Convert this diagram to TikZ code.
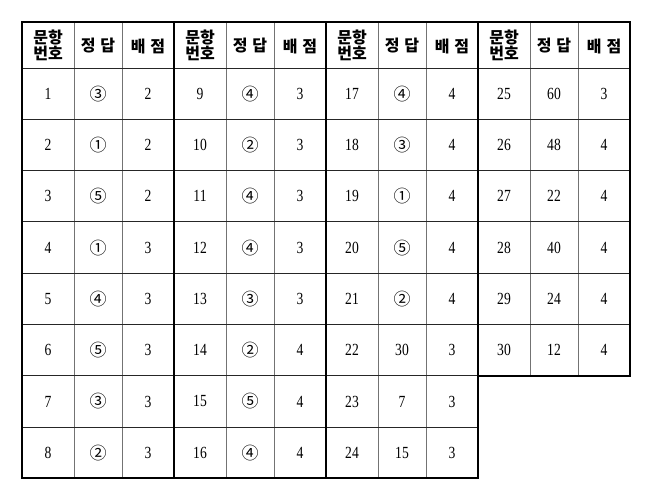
\documentclass[tikz,border=0pt]{standalone}
\usepackage{fontspec}
\setmainfont{Liberation Serif}[FakeStretch=0.8]
\newfontfamily\hdfont{Noto Sans CJK KR}
\newfontfamily\circfont{Noto Sans CJK KR}
\newcommand\ci[1]{{\circfont\fontsize{17}{19}\selectfont #1}}

\tikzset{
	hdtext/.style={align=center,inner sep=0pt,font=\hdfont\bfseries\fontsize{16}{16}\selectfont},
	celltext/.style={inner sep=0pt,font=\fontsize{17}{20}\selectfont},
	innerline/.style={line width=.9pt,draw=black!55},
	rowline/.style={line width=.9pt,draw=black!85},
	groupline/.style={line width=1.4pt},
	outerline/.style={line width=2pt,line join=miter}
}

\begin{document}
\begin{tikzpicture}[x=1pt,y=-1pt]
			\useasboundingbox (0,0) rectangle (650,499);
			
			% inner column lines
			\foreach \g in {0,1,2} { \draw[innerline] ({22+152*\g+52},22) -- ({22+152*\g+52},478);
				\draw[innerline] ({22+152*\g+100},22) -- ({22+152*\g+100},478); }
			\draw[innerline] (530,22) -- (530,375.5); \draw[innerline] (578,22) -- (578,375.5);
			
			% row lines
			\draw[rowline] (22,68) -- (630,68);
			\foreach \k in {1,...,5} \draw[rowline] (22,{68+51.3*\k}) -- (630,{68+51.3*\k});
			\draw[rowline] (22,{68+51.3*6}) -- (478,{68+51.3*6});
			\draw[rowline] (22,{68+51.3*7}) -- (478,{68+51.3*7});
			
			% group lines and border
			\draw[groupline] (174,22) -- (174,478); \draw[groupline] (326,22) -- (326,478);
			\draw[groupline] (478,22) -- (478,375.5);
			\draw[outerline] (22,22) -- (630,22) -- (630,375.5) -- (478,375.5) -- (478,478) -- (22,478) -- cycle;
			
			% headers
			\foreach \g in {0,...,3} {
				\node[hdtext] (hd-\g-1) at ({22+152*\g+26},45) {문항\\번호};
				\node[hdtext] (hd-\g-2) at ({22+152*\g+76},46) {정\hspace{5pt}답};
				\node[hdtext] (hd-\g-3) at ({22+152*\g+126},46) {배\hspace{5pt}점};
			}
			
			% answers
			\foreach \n/\a/\p [count=\r] in {1/\ci{③}/2,2/\ci{①}/2,3/\ci{⑤}/2,4/\ci{①}/3,5/\ci{④}/3,6/\ci{⑤}/3,7/\ci{③}/3,8/\ci{②}/3} {
				\node[celltext] (num-\n) at (48,{68+51.3*(\r-.5)}) {\n};
				\node[celltext] (ans-\n) at (98,{68+51.3*(\r-.5)}) {\a};
				\node[celltext] (pts-\n) at (148,{68+51.3*(\r-.5)}) {\p};
			}
			\foreach \n/\a/\p [count=\r] in {9/\ci{④}/3,10/\ci{②}/3,11/\ci{④}/3,12/\ci{④}/3,13/\ci{③}/3,14/\ci{②}/4,15/\ci{⑤}/4,16/\ci{④}/4} {
				\node[celltext] (num-\n) at (200,{68+51.3*(\r-.5)}) {\n};
				\node[celltext] (ans-\n) at (250,{68+51.3*(\r-.5)}) {\a};
				\node[celltext] (pts-\n) at (300,{68+51.3*(\r-.5)}) {\p};
			}
			\foreach \n/\a/\p [count=\r] in {17/\ci{④}/4,18/\ci{③}/4,19/\ci{①}/4,20/\ci{⑤}/4,21/\ci{②}/4,22/30/3,23/7/3,24/15/3} {
				\node[celltext] (num-\n) at (352,{68+51.3*(\r-.5)}) {\n};
				\node[celltext] (ans-\n) at (402,{68+51.3*(\r-.5)}) {\a};
				\node[celltext] (pts-\n) at (452,{68+51.3*(\r-.5)}) {\p};
			}
			\foreach \n/\a/\p [count=\r] in {25/60/3,26/48/4,27/22/4,28/40/4,29/24/4,30/12/4} {
				\node[celltext] (num-\n) at (504,{68+51.3*(\r-.5)}) {\n};
				\node[celltext] (ans-\n) at (554,{68+51.3*(\r-.5)}) {\a};
				\node[celltext] (pts-\n) at (604,{68+51.3*(\r-.5)}) {\p};
			}
			\end{tikzpicture}
\end{document}
